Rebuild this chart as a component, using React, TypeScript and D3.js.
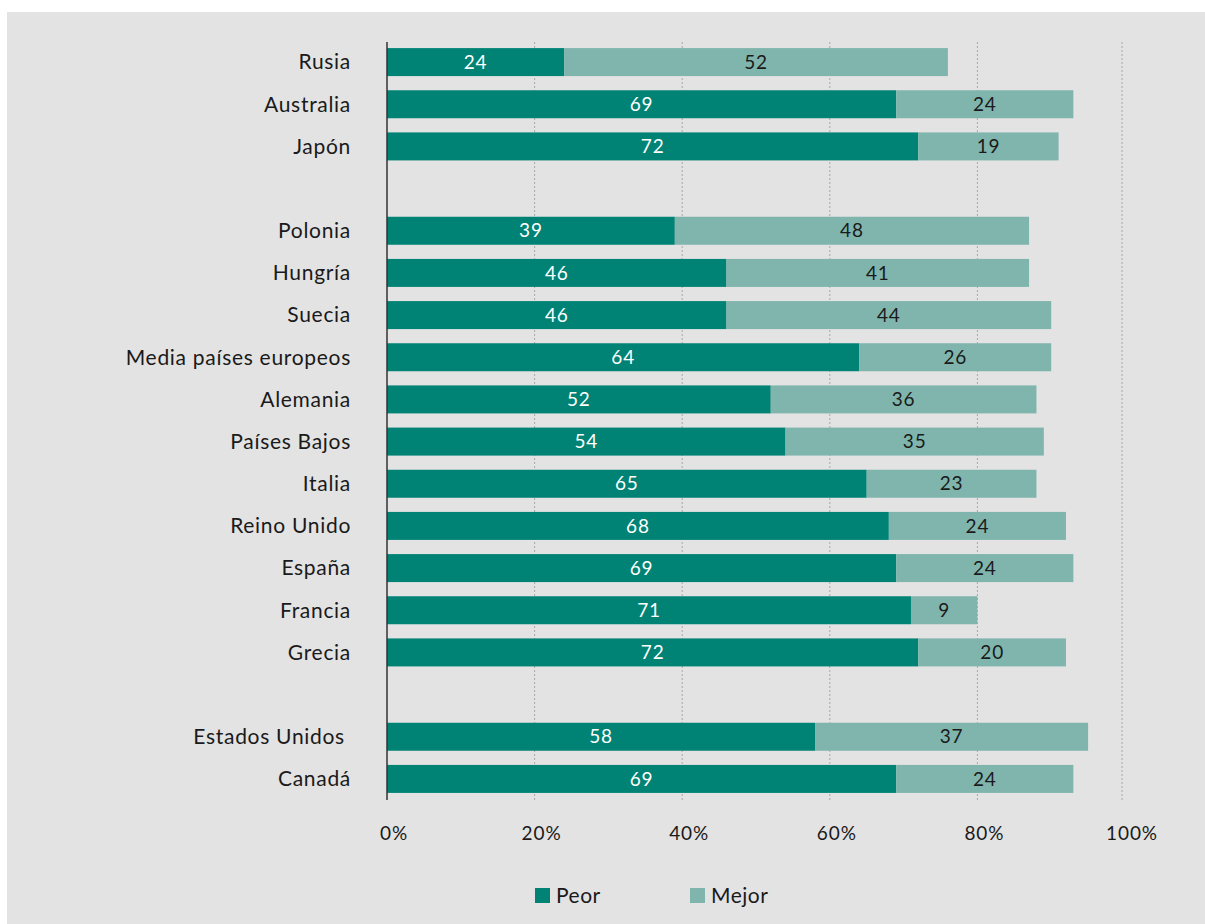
import React, { useEffect } from "react";
import * as d3 from "d3";

const categories = [
  "Rusia", "Australia", "Japón", "_gap1",
  "Polonia", "Hungría", "Suecia", "Media países europeos", "Alemania",
  "Países Bajos", "Italia", "Reino Unido", "España", "Francia", "Grecia", "_gap2",
  "Estados Unidos", "Canadá",
];
const peor: Record<string, number> = {
  "Rusia": 24, "Australia": 69, "Japón": 72,
  "Polonia": 39, "Hungría": 46, "Suecia": 46, "Media países europeos": 64, "Alemania": 52,
  "Países Bajos": 54, "Italia": 65, "Reino Unido": 68, "España": 69, "Francia": 71, "Grecia": 72,
  "Estados Unidos": 58, "Canadá": 69,
};
const mejor: Record<string, number> = {
  "Rusia": 52, "Australia": 24, "Japón": 19,
  "Polonia": 48, "Hungría": 41, "Suecia": 44, "Media países europeos": 26, "Alemania": 36,
  "Países Bajos": 35, "Italia": 23, "Reino Unido": 24, "España": 24, "Francia": 9, "Grecia": 20,
  "Estados Unidos": 37, "Canadá": 24,
};
const ticks = [0, 20, 40, 60, 80, 100];
const seriesNames = ["Peor", "Mejor"];

const W = 1205, H = 924;
const COL_PEOR = "#008375";
const COL_MEJOR = "#7fb5ad";
const FONT = "Lato, 'Open Sans', sans-serif";

export default function App() {
  useEffect(() => {
    document.body.style.margin = "0";
  }, []);

  const x = d3.scaleLinear().domain([0, 100]).range([387, 1125]);
  const y = d3.scaleBand<string>().domain(categories).range([41, 800]).paddingInner(0.336).paddingOuter(0.168);
  const bw = y.bandwidth();
  const rows = categories.filter((c) => !c.startsWith("_gap"));

  return (
    <svg width={W} height={H} style={{ display: "block" }}>
      <rect x={7} y={12} width={W - 7} height={H - 12} fill="#e3e3e3" />
      {ticks.slice(1).map((t) => (
        <line key={"g" + t} x1={x(t) - (t === 100 ? 3 : 0)} x2={x(t) - (t === 100 ? 3 : 0)} y1={42} y2={800} stroke="#a8a8a8" strokeWidth={1} strokeDasharray="2,2" />
      ))}
      {rows.map((c) => {
        const y0 = y(c)!;
        const p = peor[c], m = mejor[c];
        return (
          <g key={c}>
            <rect x={x(0)} y={y0} width={x(p) - x(0)} height={bw} fill={COL_PEOR} />
            <rect x={x(p)} y={y0} width={x(p + m) - x(p)} height={bw} fill={COL_MEJOR} />
            <text x={(x(0) + x(p)) / 2} y={y0 + bw / 2} dy="0.35em" textAnchor="middle" fill="#ffffff" fontFamily={FONT} fontSize={19} letterSpacing={0.8}>{p}</text>
            <text x={(x(p) + x(p + m)) / 2} y={y0 + bw / 2} dy="0.35em" textAnchor="middle" fill="#1a1a1a" fontFamily={FONT} fontSize={19} letterSpacing={0.8}>{m}</text>
            <text x={351} y={y0 + bw / 2} dy="0.35em" textAnchor="end" fill="#1a1a1a" fontFamily={FONT} fontSize={21} letterSpacing={0.7}>{c === "Estados Unidos" ? c + "\u00A0" : c}</text>
          </g>
        );
      })}
      <line x1={x(0)} x2={x(0)} y1={42} y2={800} stroke="#333" strokeWidth={1.5} />
      {ticks.map((t) => (
        <text key={"t" + t} x={x(t) + 7} y={833} dy="0.35em" textAnchor="middle" fill="#1a1a1a" fontFamily={FONT} fontSize={19} letterSpacing={0.9}>{t}%</text>
      ))}
      {seriesNames.map((s, i) => {
        const lx = i === 0 ? 535 : 690;
        return (
          <g key={s}>
            <rect x={lx} y={888} width={15} height={15} fill={i === 0 ? COL_PEOR : COL_MEJOR} />
            <text x={lx + 21} y={896} dy="0.35em" fill="#1a1a1a" fontFamily={FONT} fontSize={21} letterSpacing={0.5}>{s}</text>
          </g>
        );
      })}
    </svg>
  );
}
